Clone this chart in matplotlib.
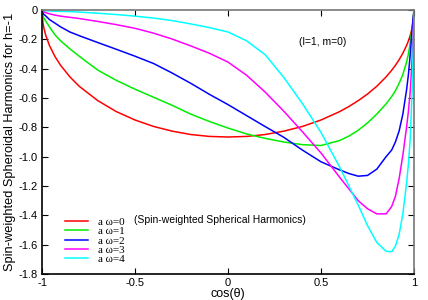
import matplotlib
matplotlib.use("Agg")
import matplotlib.pyplot as plt
from matplotlib.font_manager import FontProperties

cos_theta = [-1.0, -0.995, -0.99, -0.98, -0.96, -0.93, -0.9, -0.85, -0.8, -0.7, -0.6, -0.5,
             -0.4, -0.3, -0.2, -0.1, 0.0, 0.1, 0.2, 0.3, 0.4, 0.5, 0.6, 0.65, 0.7, 0.75,
             0.8, 0.85, 0.88, 0.9, 0.92, 0.94, 0.96, 0.97, 0.98, 0.99, 0.995, 1.0]

s_w0 = [0.0, -0.087, -0.122, -0.172, -0.242, -0.318, -0.377, -0.456, -0.52, -0.618, -0.693, -0.75,
        -0.794, -0.826, -0.849, -0.862, -0.866, -0.862, -0.849, -0.826, -0.794, -0.75, -0.693, -0.658,
        -0.618, -0.573, -0.52, -0.456, -0.411, -0.377, -0.339, -0.295, -0.242, -0.211, -0.172, -0.122,
        -0.087, 0.0]

s_w1 = [0.0, -0.04, -0.055, -0.075, -0.115, -0.17, -0.21, -0.265, -0.315, -0.41, -0.48, -0.54,
        -0.595, -0.65, -0.71, -0.76, -0.805, -0.845, -0.875, -0.9, -0.918, -0.924, -0.89, -0.86,
        -0.82, -0.77, -0.71, -0.64, -0.59, -0.55, -0.5, -0.44, -0.355, -0.3, -0.22, -0.12,
        -0.065, 0.0]

s_w2 = [0.0, -0.02, -0.03, -0.04, -0.065, -0.09, -0.115, -0.15, -0.175, -0.222, -0.268, -0.315,
        -0.365, -0.43, -0.5, -0.575, -0.645, -0.72, -0.795, -0.868, -0.955, -1.035, -1.09, -1.115,
        -1.133, -1.128, -1.085, -1.0, -0.955, -0.9, -0.825, -0.71, -0.545, -0.44, -0.3, -0.13,
        -0.06, 0.0]

s_w3 = [0.0, -0.008, -0.012, -0.018, -0.026, -0.035, -0.042, -0.05, -0.058, -0.078, -0.1, -0.125,
        -0.158, -0.198, -0.245, -0.295, -0.355, -0.445, -0.56, -0.69, -0.83, -0.975, -1.14, -1.22,
        -1.3, -1.355, -1.39, -1.39, -1.34, -1.27, -1.15, -0.99, -0.8, -0.69, -0.55, -0.33,
        -0.18, 0.0]

s_w4 = [0.0, -0.002, -0.003, -0.004, -0.006, -0.008, -0.009, -0.011, -0.014, -0.022, -0.031, -0.042,
        -0.055, -0.072, -0.095, -0.12, -0.15, -0.21, -0.305, -0.46, -0.638, -0.835, -1.07, -1.2,
        -1.33, -1.47, -1.585, -1.645, -1.648, -1.61, -1.53, -1.39, -1.18, -1.05, -0.87, -0.55,
        -0.3, 0.0]

labels = ["a \u03c9=0", "a \u03c9=1", "a \u03c9=2", "a \u03c9=3", "a \u03c9=4"]
colors = ["#ff0000", "#00ee00", "#0000ff", "#ff00ff", "#00ffff"]

xticks = [-1, -0.5, 0, 0.5, 1]
xticklabels = ["-1", "-0.5", "0", "0.5", "1"]
yticks = [0, -0.2, -0.4, -0.6, -0.8, -1.0, -1.2, -1.4, -1.6, -1.8]
yticklabels = ["0", "-0.2", "-0.4", "-0.6", "-0.8", "-1.0", "-1.2", "-1.4", "-1.6", "-1.8"]

plt.rcParams['font.family'] = ['Liberation Sans', 'DejaVu Sans']

fig = plt.figure(figsize=(4.28, 3.0), dpi=100)
ax = fig.add_axes([42 / 428, 1 - 274 / 300, 372 / 428, 264 / 300])

for ys, c, lab in zip([s_w0, s_w1, s_w2, s_w3, s_w4], colors, labels):
    ax.plot(cos_theta, ys, color=c, lw=1.1, label=lab)

ax.set_xlim(-1, 1)
ax.set_ylim(-1.8, 0)
ax.set_xticks(xticks)
ax.set_xticklabels(xticklabels)
ax.set_yticks(yticks)
ax.set_yticklabels(yticklabels)
ax.tick_params(direction='in', length=4, width=0.8, labelsize=8,
               top=True, right=True, pad=3)

for side in ['left', 'bottom']:
    ax.spines[side].set_color('black')
for side in ['top', 'right']:
    ax.spines[side].set_color('#777777')
for sp in ax.spines.values():
    sp.set_linewidth(1.2)

ax.set_ylabel('Spin-weighted Spheroidal Harmonics for h=-1', fontsize=9.2, labelpad=2)
fig.text(228 / 428, 1 - 294 / 300, 'cos(\u03b8)', ha='center', va='center', fontsize=9)

ax.text(0.755, 0.879, '(l=1, m=0)', transform=ax.transAxes, ha='center', va='center', fontsize=7.5)

leg = ax.legend(loc='lower left', bbox_to_anchor=(0.05, 0.02), frameon=False,
                prop=FontProperties(family='Liberation Serif', size=8),
                handlelength=2.1, handletextpad=0.9, labelspacing=-0.04, borderaxespad=0)
ax.text((134 - 42) / 372, 1 - (220 - 10) / 264, '(Spin-weighted Spherical Harmonics)',
        transform=ax.transAxes, ha='left', va='center', fontsize=7.5)

fig.savefig('out.png', dpi=100)
